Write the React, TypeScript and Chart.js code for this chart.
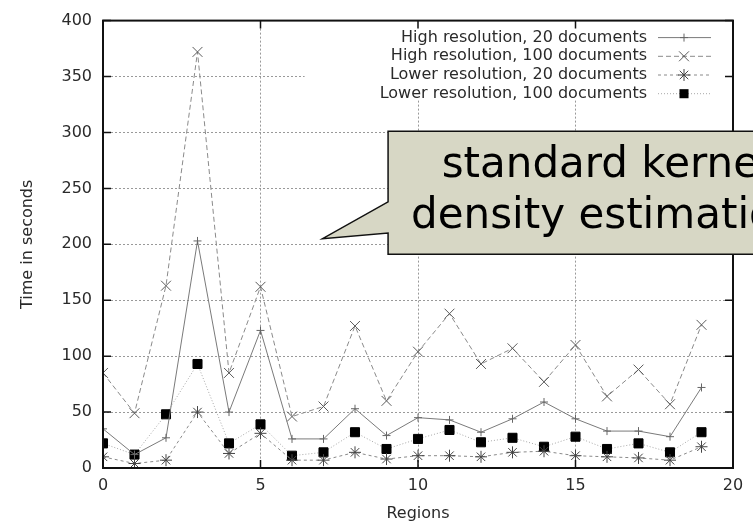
import React, { useEffect, useRef } from 'react';
import { Chart, registerables } from 'chart.js';

Chart.register(...registerables);

// ---- data ----
const regions = [0, 1, 2, 3, 4, 5, 6, 7, 8, 9, 10, 11, 12, 13, 14, 15, 16, 17, 18, 19];
const highRes20 = [35, 12, 27, 203, 50, 123, 26, 26, 53, 29, 45, 43, 32, 44, 59, 44, 33, 33, 28, 72];
const highRes100 = [85, 49, 163, 372, 85, 162, 46, 55, 127, 60, 104, 138, 93, 107, 77, 110, 64, 88, 57, 128];
const lowRes20 = [10, 4, 7, 50, 13, 31, 7, 7, 14, 8, 11, 11, 10, 14, 15, 11, 10, 9, 7, 19];
const lowRes100 = [22, 12, 48, 93, 22, 39, 11, 14, 32, 17, 26, 34, 23, 27, 19, 28, 17, 22, 14, 32];

const seriesLabels = [
  'High resolution, 20 documents',
  'High resolution, 100 documents',
  'Lower resolution, 20 documents',
  'Lower resolution, 100 documents',
];
const calloutLines = ['standard kernel', 'density estimation'];
const xTickStep = 5;
const yTickStep = 50;

// annotation anchors in data coordinates
const CALLOUT = { tipX: 6.97, tipY: 205, boxLeft: 9.05, boxRight: 22.9, boxTop: 301, boxBottom: 191, baseTop: 238, baseBottom: 210 };
const LEGEND_BOX = { xMin: 6.4, yMin: 329 };

const FONT = 'DejaVu Sans';

type Style = { line: string; point: string; dash: number[]; style: string; radius: number };
const styles: Style[] = [
  { line: '#7a7a7a', point: '#666666', dash: [], style: 'cross', radius: 4 },
  { line: '#8a8a8a', point: '#5a5a5a', dash: [5, 3], style: 'crossRot', radius: 7 },
  { line: '#8a8a8a', point: '#444444', dash: [3, 3], style: 'star', radius: 6 },
  { line: '#a8a8a8', point: '#000000', dash: [1, 2], style: 'rect', radius: 6.4 },
];
const seriesData = [highRes20, highRes100, lowRes20, lowRes100];

function drawMarker(ctx: CanvasRenderingContext2D, s: Style, x: number, y: number) {
  const r = s.radius;
  ctx.save();
  ctx.setLineDash([]);
  ctx.strokeStyle = s.point;
  ctx.fillStyle = s.point;
  ctx.lineWidth = 1;
  ctx.beginPath();
  if (s.style === 'cross' || s.style === 'star') {
    ctx.moveTo(x - r, y); ctx.lineTo(x + r, y);
    ctx.moveTo(x, y - r); ctx.lineTo(x, y + r);
  }
  if (s.style === 'crossRot' || s.style === 'star') {
    const o = r * Math.SQRT1_2;
    ctx.moveTo(x - o, y - o); ctx.lineTo(x + o, y + o);
    ctx.moveTo(x - o, y + o); ctx.lineTo(x + o, y - o);
  }
  ctx.stroke();
  if (s.style === 'rect') {
    const h = r * Math.SQRT1_2;
    ctx.fillRect(x - h, y - h, 2 * h, 2 * h);
  }
  ctx.restore();
}

const decorPlugin = {
  id: 'decor',
  beforeDatasetsDraw(chart: any) {
    const { ctx, chartArea, scales } = chart;
    const { top, right } = chartArea;
    const lx = scales.x.getPixelForValue(LEGEND_BOX.xMin);
    const ly = scales.y.getPixelForValue(LEGEND_BOX.yMin);
    ctx.save();
    ctx.fillStyle = '#ffffff';
    ctx.fillRect(lx, top, right - lx, ly - top);
    ctx.restore();
  },
  afterDatasetsDraw(chart: any) {
    const { ctx, chartArea, scales } = chart;
    const { left, top, right, bottom } = chartArea;
    ctx.save();
    // frame
    ctx.setLineDash([]);
    ctx.strokeStyle = '#111';
    ctx.lineWidth = 2;
    ctx.strokeRect(left, top, right - left, bottom - top);
    // inward ticks
    ctx.lineWidth = 1.5;
    ctx.beginPath();
    for (let v = 0; v <= 400; v += yTickStep) {
      const py = scales.y.getPixelForValue(v);
      ctx.moveTo(left, py); ctx.lineTo(left + 8, py);
      ctx.moveTo(right, py); ctx.lineTo(right - 8, py);
    }
    for (let v = 0; v <= 20; v += xTickStep) {
      const px = scales.x.getPixelForValue(v);
      ctx.moveTo(px, bottom); ctx.lineTo(px, bottom - 8);
      ctx.moveTo(px, top); ctx.lineTo(px, top + 8);
    }
    ctx.stroke();
    // legend
    ctx.font = `16px "${FONT}"`;
    ctx.textAlign = 'right';
    ctx.textBaseline = 'middle';
    ctx.fillStyle = '#2a2a2a';
    seriesLabels.forEach((label, i) => {
      const s = styles[i];
      const ry = top + 17 + i * 18.7;
      ctx.fillText(label, right - 86, ry);
      ctx.save();
      ctx.strokeStyle = s.line;
      ctx.lineWidth = 1;
      ctx.setLineDash(s.dash);
      ctx.beginPath();
      ctx.moveTo(right - 75, ry);
      ctx.lineTo(right - 22, ry);
      ctx.stroke();
      ctx.restore();
      drawMarker(ctx, s, right - 49, ry);
    });
    ctx.restore();
  },
  afterDraw(chart: any) {
    const { ctx, scales } = chart;
    const X = (v: number) => scales.x.getPixelForValue(v);
    const Y = (v: number) => scales.y.getPixelForValue(v);
    const bl = X(CALLOUT.boxLeft), br = X(CALLOUT.boxRight);
    const bt = Y(CALLOUT.boxTop), bb = Y(CALLOUT.boxBottom);
    ctx.save();
    ctx.setLineDash([]);
    ctx.beginPath();
    ctx.moveTo(bl, bt);
    ctx.lineTo(br, bt);
    ctx.lineTo(br, bb);
    ctx.lineTo(bl, bb);
    ctx.lineTo(bl, Y(CALLOUT.baseBottom));
    ctx.lineTo(X(CALLOUT.tipX), Y(CALLOUT.tipY));
    ctx.lineTo(bl, Y(CALLOUT.baseTop));
    ctx.closePath();
    ctx.fillStyle = '#d7d7c5';
    ctx.fill();
    ctx.strokeStyle = '#111';
    ctx.lineWidth = 1.5;
    ctx.stroke();
    ctx.font = `42px "${FONT}"`;
    ctx.textAlign = 'center';
    ctx.textBaseline = 'alphabetic';
    ctx.fillStyle = '#000';
    const cx = (bl + br) / 2;
    ctx.fillText(calloutLines[0], cx, bt + 46);
    ctx.fillText(calloutLines[1], cx, bt + 97);
    ctx.restore();
  },
};

export default function App() {
  const ref = useRef<HTMLCanvasElement>(null);
  useEffect(() => {
    document.body.style.margin = '0';
    const canvas = ref.current!;
    Chart.defaults.font.family = FONT;
    Chart.defaults.font.size = 16;
    Chart.defaults.color = '#2a2a2a';
    const chart = new Chart(canvas, {
      type: 'line',
      data: {
        datasets: seriesData.map((vals, i) => ({
          label: seriesLabels[i],
          data: regions.map((r, k) => ({ x: r, y: vals[k] })),
          borderColor: styles[i].line,
          borderWidth: 1,
          borderDash: styles[i].dash,
          pointStyle: styles[i].style as any,
          pointRadius: styles[i].radius,
          pointBorderColor: styles[i].point,
          pointBackgroundColor: styles[i].point,
          pointBorderWidth: 1,
          fill: false,
          tension: 0,
        })),
      },
      options: {
        responsive: false,
        animation: false,
        events: [],
        layout: { padding: { top: 16, right: 20, left: 0, bottom: 0 } },
        plugins: { legend: { display: false }, tooltip: { enabled: false } },
        scales: {
          x: {
            type: 'linear',
            min: 0,
            max: 20,
            ticks: { stepSize: xTickStep, padding: 8, color: '#2a2a2a', font: { size: 16 } },
            grid: { color: '#999999', lineWidth: 1, drawTicks: false },
            border: { display: false, dash: [2, 2] },
            title: { display: true, text: 'Regions', color: '#2a2a2a', font: { size: 16 }, padding: 0 },
            afterFit: (s: any) => { s.height = 55; },
          },
          y: {
            min: 0,
            max: 400,
            ticks: { stepSize: yTickStep, padding: 11, color: '#2a2a2a', font: { size: 16 } },
            grid: { color: '#999999', lineWidth: 1, drawTicks: false },
            border: { display: false, dash: [2, 2] },
            title: { display: true, text: 'Time in seconds', color: '#2a2a2a', font: { size: 16 }, padding: { top: 18, bottom: 0 } },
            afterFit: (s: any) => { s.width = 103; },
          },
        },
      },
      plugins: [decorPlugin],
    });
    return () => chart.destroy();
  }, []);
  return (
    <div style={{ width: 753, height: 523, overflow: 'hidden' }}>
      <canvas ref={ref} width={753} height={523} style={{ display: 'block' }} />
    </div>
  );
}
